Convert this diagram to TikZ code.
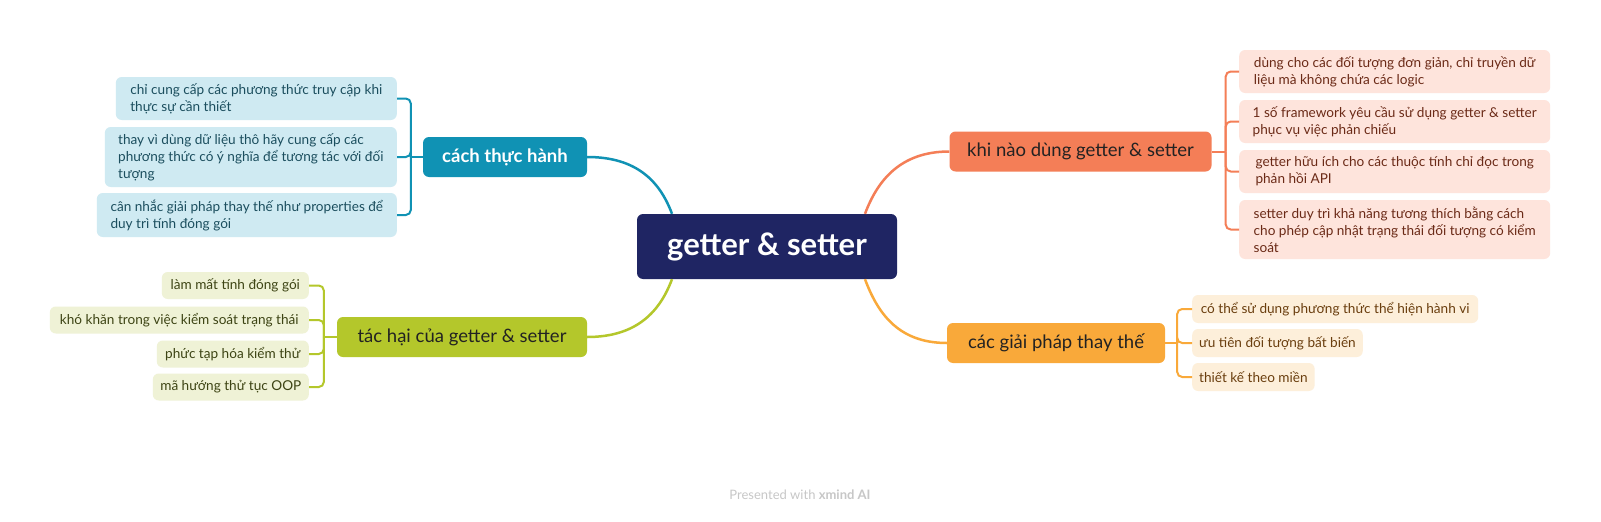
\documentclass[tikz,border=0pt]{standalone}
\usepackage{fontspec}
\setmainfont{Lato}
\usepackage{tikz}
\usepackage{xcolor}

\definecolor{rootbg}{HTML}{1F2563}
\definecolor{tealc}{HTML}{1092B4}
\definecolor{bluel}{HTML}{CFEAF2}
\definecolor{bluet}{HTML}{1B4E5E}
\definecolor{greenc}{HTML}{B4C72B}
\definecolor{greenl}{HTML}{EFF2D6}
\definecolor{greent}{HTML}{3D4414}
\definecolor{orangec}{HTML}{F47E57}
\definecolor{pinkl}{HTML}{FEE4DC}
\definecolor{pinkt}{HTML}{6B2A17}
\definecolor{yellowc}{HTML}{F9A93A}
\definecolor{yellowl}{HTML}{FDEFDA}
\definecolor{yellowt}{HTML}{6A3E0E}
\definecolor{darkt}{HTML}{222222}

\begin{document}
\begin{tikzpicture}[x=1pt,y=-1pt,
    root/.style={rounded corners=6pt, fill=rootbg, text=white, inner sep=0pt,
      minimum width=260pt, minimum height=65pt, font=\fontsize{31}{36}\selectfont\bfseries},
    branch/.style={rounded corners=6pt, inner sep=0pt, minimum height=40pt,
      text=darkt, font=\fontsize{18.5}{22}\selectfont},
    leaf/.style={rounded corners=6pt, inner xsep=7pt, inner ysep=0pt,
      font=\fontsize{13.6}{17}\selectfont},
    note/.style={leaf, align=left},
    main/.style={line width=2.5pt},
    brk/.style={line width=2pt, rounded corners=5pt},
  ]
  \useasboundingbox (0,0) rectangle (1601,522);
  \fill[white] (0,0) rectangle (1601,522);

  \node[root] (G) at (767,246.5) {getter \& setter};

  \node[branch, fill=tealc, text=white, font=\fontsize{18.5}{22}\selectfont\bfseries,
    minimum width=164pt] (cth) at (505,157) {cách thực hành};
  \node[branch, fill=greenc, minimum width=250pt] (th) at (462,337) {tác hại của getter \& setter};
  \node[branch, fill=orangec, minimum width=262pt] (knd) at (1080.5,151.5) {khi nào dùng getter \& setter};
  \node[branch, fill=yellowc, minimum width=218pt] (gp) at (1056,343) {các giải pháp thay thế};

  % cach thuc hanh
  \node[note, fill=bluel, text=bluet, anchor=east, minimum width=281pt, minimum height=43pt] (c1) at (397,98.5)
    {chỉ cung cấp các phương thức truy cập khi\\thực sự cần thiết};
  \node[note, fill=bluel, text=bluet, anchor=east, minimum width=292pt, minimum height=60pt] (c2) at (397,157)
    {thay vì dùng dữ liệu thô hãy cung cấp các\\phương thức có ý nghĩa để tương tác với đối\\tượng};
  \node[note, fill=bluel, text=bluet, anchor=east, minimum width=300pt, minimum height=44pt] (c3) at (397,215)
    {cân nhắc giải pháp thay thế như properties để\\duy trì tính đóng gói};

  % tac hai
  \node[leaf, fill=greenl, text=greent, anchor=east, minimum width=147pt, minimum height=27pt] (t1) at (309,285.5) {làm mất tính đóng gói};
  \node[leaf, fill=greenl, text=greent, anchor=east, minimum width=259pt, minimum height=27pt] (t2) at (309,320) {khó khăn trong việc kiểm soát trạng thái};
  \node[leaf, fill=greenl, text=greent, anchor=east, minimum width=152pt, minimum height=27pt] (t3) at (309,354) {phức tạp hóa kiểm thử};
  \node[leaf, fill=greenl, text=greent, anchor=east, minimum width=156pt, minimum height=27pt] (t4) at (309,387) {mã hướng thử tục OOP};

  % khi nao dung
  \node[note, fill=pinkl, text=pinkt, anchor=west, minimum width=311pt, minimum height=43pt] (k1) at (1239,71.5)
    {dùng cho các đối tượng đơn giản, chỉ truyền dữ\\liệu mà không chứa các logic};
  \node[note, fill=pinkl, text=pinkt, anchor=west, minimum width=311pt, minimum height=43pt] (k2) at (1239,121.5)
    {1 số framework yêu cầu sử dụng getter \& setter\\phục vụ việc phản chiếu};
  \node[note, fill=pinkl, text=pinkt, anchor=west, minimum width=311pt, minimum height=43pt] (k3) at (1239,171.5)
    {getter hữu ích cho các thuộc tính chỉ đọc trong\\phản hồi API};
  \node[note, fill=pinkl, text=pinkt, anchor=west, minimum width=311pt, minimum height=59pt] (k4) at (1239,229.5)
    {setter duy trì khả năng tương thích bằng cách\\cho phép cập nhật trạng thái đối tượng có kiểm\\soát};

  % giai phap
  \node[leaf, fill=yellowl, text=yellowt, anchor=west, minimum width=286pt, minimum height=28pt] (y1) at (1192,309) {có thể sử dụng phương thức thể hiện hành vi};
  \node[leaf, fill=yellowl, text=yellowt, anchor=west, minimum width=170pt, minimum height=28pt] (y2) at (1192,343) {ưu tiên đối tượng bất biến};
  \node[leaf, fill=yellowl, text=yellowt, anchor=west, minimum width=119pt, minimum height=28pt] (y3) at (1192,377) {thiết kế theo miền};

  \coordinate (cj) at ([xshift=-12pt]cth.west);
  \coordinate (tj) at ([xshift=-13pt]th.west);
  \coordinate (kj) at ([xshift=14pt]knd.east);
  \coordinate (gj) at ([xshift=12pt]gp.east);

  \draw[main, tealc] (cth.east) .. controls +(50,0) and +(-12,-32) .. ([xshift=-95pt]G.north);
  \draw[main, greenc] (th.east) .. controls +(50,0) and +(-12,32) .. ([xshift=-95pt]G.south);
  \draw[main, orangec] (knd.west) .. controls +(-50,0) and +(12,-32) .. ([xshift=98pt]G.north);
  \draw[main, yellowc] (gp.west) .. controls +(-50,0) and +(12,32) .. ([xshift=98pt]G.south);

  \draw[brk, tealc] (cth.west) -- (cj);
  \foreach \n in {c1,c2,c3} \draw[brk, tealc] (cj) |- (\n.east);
  \draw[brk, greenc] (th.west) -- (tj);
  \foreach \n in {t1,t2,t3,t4} \draw[brk, greenc] (tj) |- (\n.east);
  \draw[brk, orangec] (knd.east) -- (kj);
  \foreach \n in {k1,k2,k3,k4} \draw[brk, orangec] (kj) |- (\n.west);
  \draw[brk, yellowc] (gp.east) -- (gj);
  \foreach \n in {y1,y2,y3} \draw[brk, yellowc] (gj) |- (\n.west);

  \node[font=\fontsize{13}{16}\selectfont, text=black!22] (foot) at (800,495)
    {Presented with \textbf{xmind AI}};
\end{tikzpicture}
\end{document}
